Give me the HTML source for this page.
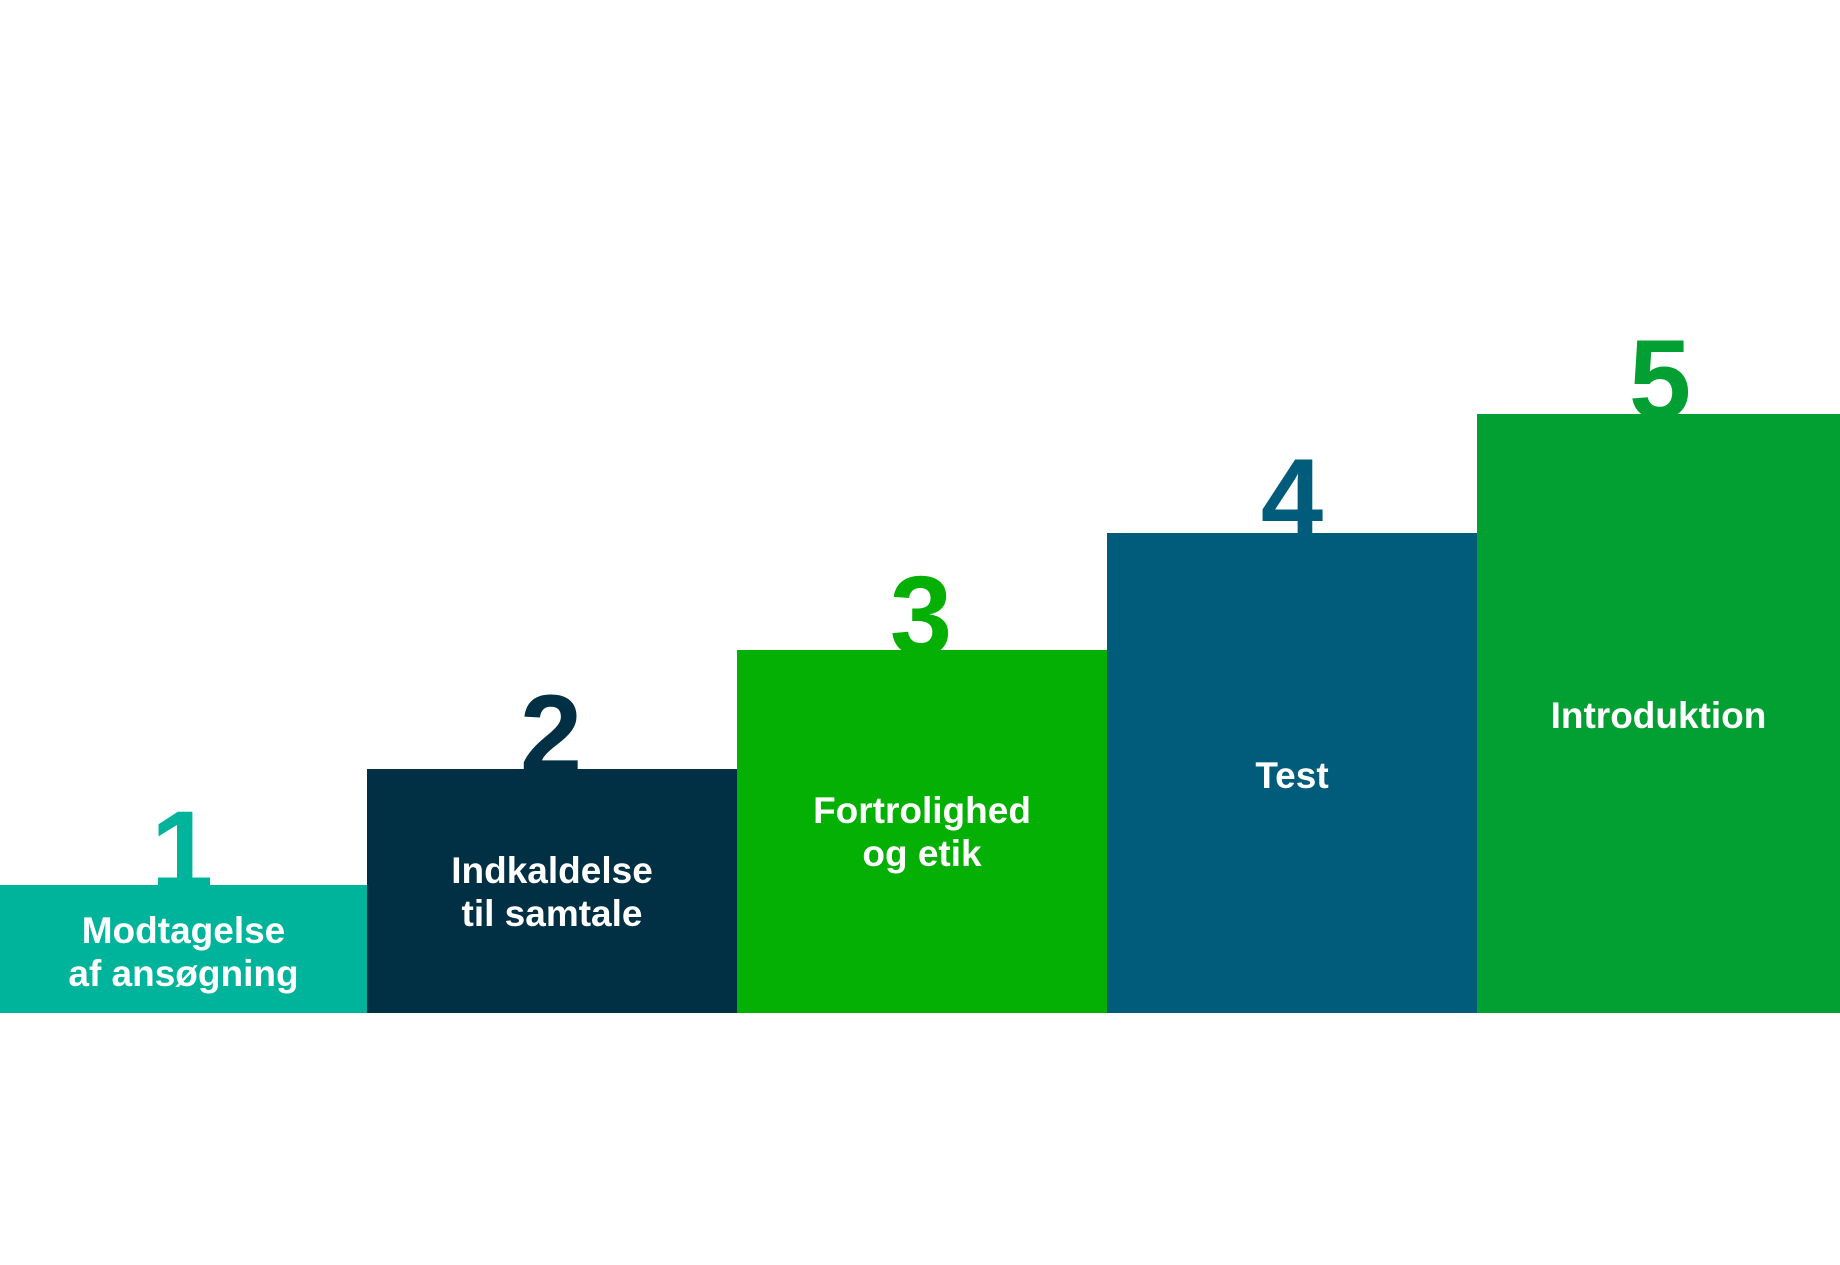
<!DOCTYPE html>
<html><head><meta charset="utf-8"><style>
html,body{margin:0;padding:0;background:#fff;}
body{width:1840px;height:1265px;position:relative;overflow:hidden;font-family:"Liberation Sans",sans-serif;}
.bar{position:absolute;z-index:2;}
.num{position:absolute;font-weight:bold;font-size:112px;line-height:112px;text-align:center;width:200px;z-index:1;}
.lbl{position:absolute;color:#fff;font-weight:bold;font-size:37px;line-height:43px;text-align:center;z-index:3;}
</style></head><body>
<div class="bar" style="left:0;top:885px;width:367px;height:128px;background:#00b49c"></div>
<div class="bar" style="left:367px;top:769px;width:370px;height:244px;background:#012f43"></div>
<div class="bar" style="left:737px;top:650px;width:370px;height:363px;background:#03b003"></div>
<div class="bar" style="left:1107px;top:533px;width:370px;height:480px;background:#005c7a"></div>
<div class="bar" style="left:1477px;top:414px;width:363px;height:599px;background:#02a032"></div>

<div class="num" style="left:82px;top:795px;color:#00b49c">1</div>
<div class="num" style="left:451px;top:679px;color:#012f43">2</div>
<div class="num" style="left:821px;top:560px;color:#03b003">3</div>
<div class="num" style="left:1192px;top:443px;color:#005c7a">4</div>
<div class="num" style="left:1560px;top:324px;color:#02a032">5</div>

<div class="lbl" style="left:0;width:367px;top:909px">Modtagelse<br>af ansøgning</div>
<div class="lbl" style="left:367px;width:370px;top:849px">Indkaldelse<br>til samtale</div>
<div class="lbl" style="left:737px;width:370px;top:789px">Fortrolighed<br>og etik</div>
<div class="lbl" style="left:1107px;width:370px;top:754px">Test</div>
<div class="lbl" style="left:1477px;width:363px;top:694px">Introduktion</div>
</body></html>
